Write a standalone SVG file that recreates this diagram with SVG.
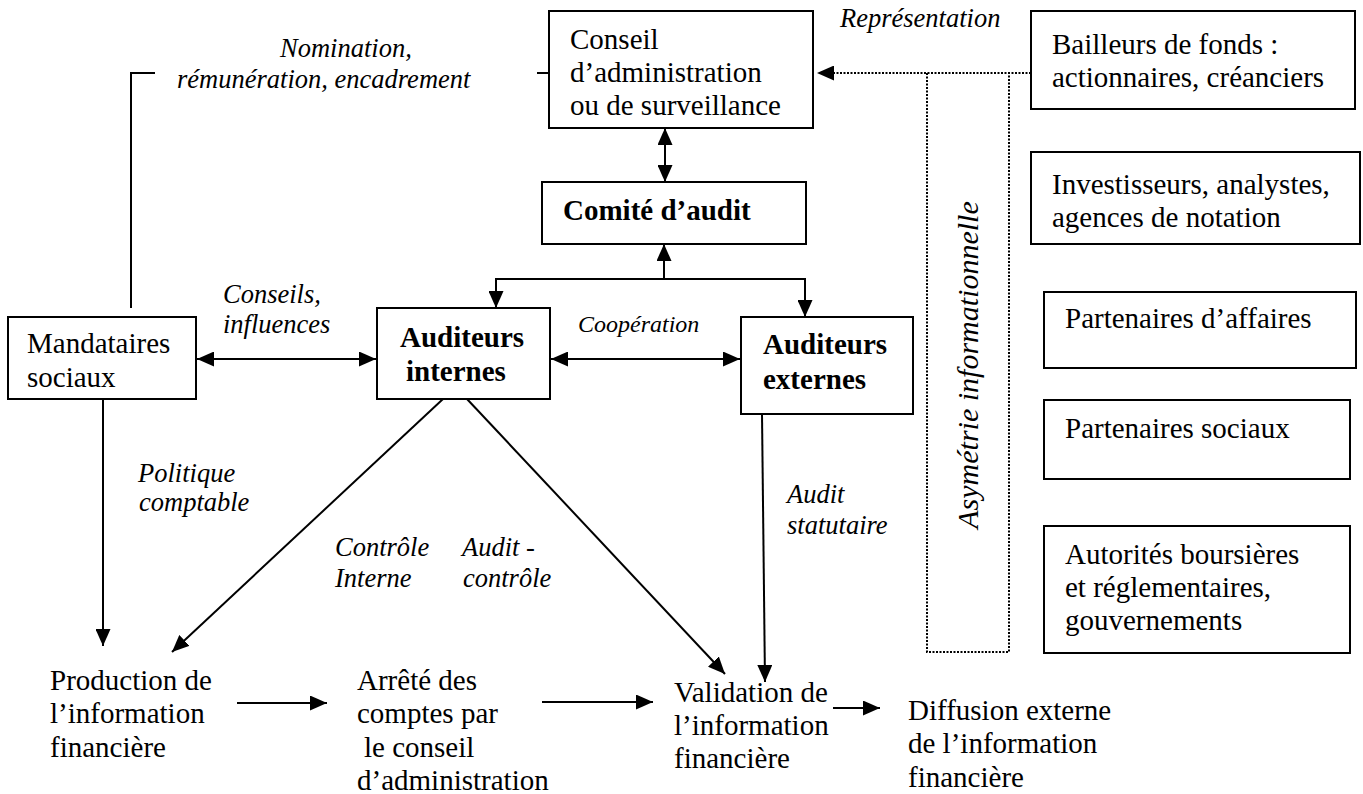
<svg xmlns="http://www.w3.org/2000/svg" width="1363" height="794" viewBox="0 0 1363 794">
<style>
.box{fill:#fff;stroke:#000;stroke-width:2}
.t{font-family:"Liberation Serif","Times New Roman",serif;font-size:29px;fill:#000}
.b{font-weight:bold}
.i{font-family:"Liberation Serif","Times New Roman",serif;font-size:26.5px;font-style:italic;fill:#000}
.ln{fill:none;stroke:#000;stroke-width:2}
.dot{fill:none;stroke:#000;stroke-width:2;stroke-dasharray:2 1.5}
</style>
<defs>
<marker id="ah" markerUnits="userSpaceOnUse" markerWidth="17" markerHeight="15" refX="17" refY="7.5" orient="auto-start-reverse"><path d="M0,0 L17,7.5 L0,15 z" fill="#000"/></marker>
</defs>
<rect width="1363" height="794" fill="#fff"/>
<g id="connectors">
<path class="ln" d="M131,308 V73 H155 M537,73 H549"/>
<line class="ln" x1="665" y1="128" x2="665" y2="182" stroke-width="3" marker-start="url(#ah)" marker-end="url(#ah)"/>
<path class="ln" d="M496,308 V279 H805 V317" marker-start="url(#ah)" marker-end="url(#ah)"/>
<line class="ln" x1="664" y1="279" x2="664" y2="244" marker-end="url(#ah)"/>
<line class="ln" x1="197" y1="359" x2="376" y2="359" stroke-width="2.5" marker-start="url(#ah)" marker-end="url(#ah)"/>
<line class="ln" x1="551" y1="359" x2="740" y2="359" stroke-width="2.5" marker-start="url(#ah)" marker-end="url(#ah)"/>
<line class="ln" x1="103" y1="399" x2="103" y2="646" marker-end="url(#ah)"/>
<line class="ln" x1="443" y1="399" x2="172" y2="652" marker-end="url(#ah)"/>
<line class="ln" x1="467" y1="399" x2="725" y2="674" marker-end="url(#ah)"/>
<line class="ln" x1="762" y1="414" x2="765" y2="682" marker-end="url(#ah)"/>
<line class="ln" x1="237" y1="703" x2="327" y2="703" stroke-width="2.5" marker-end="url(#ah)"/>
<line class="ln" x1="542" y1="702" x2="653" y2="702" stroke-width="2.5" marker-end="url(#ah)"/>
<line class="ln" x1="833" y1="708" x2="880" y2="708" stroke-width="2.5" marker-end="url(#ah)"/>
<line class="dot" x1="1031" y1="73" x2="830" y2="73"/>
<line x1="832" y1="73" x2="817" y2="73" stroke="none" marker-end="url(#ah)"/>
<path class="dot" d="M927,73 V652 H1009 V73" stroke-width="1.6"/>
<text class="i" x="280" y="57">Nomination,</text>
<text class="i" x="177" y="88">rémunération, encadrement</text>
<text class="i" x="840" y="27">Représentation</text>
<text class="i" x="223" y="303">Conseils,</text>
<text class="i" x="223" y="333">influences</text>
<text class="i" x="578" y="332" style="font-size:24px">Coopération</text>
<text class="i" x="138" y="482">Politique</text>
<text class="i" x="139" y="511">comptable</text>
<text class="i" x="335" y="556">Contrôle</text>
<text class="i" x="335" y="587">Interne</text>
<text class="i" x="462" y="556">Audit -</text>
<text class="i" x="463" y="587">contrôle</text>
<text class="i" x="787" y="503">Audit</text>
<text class="i" x="787" y="534">statutaire</text>
<text class="i" transform="translate(978,365) rotate(-90)" text-anchor="middle" style="font-size:30px">Asymétrie informationnelle</text>
</g>
<g id="conseil">
<rect class="box" x="549" y="11" width="264" height="117"/>
<text class="t" x="570" y="49">Conseil</text>
<text class="t" x="570" y="82">d’administration</text>
<text class="t" x="570" y="115">ou de surveillance</text>
</g>
<g id="comite">
<rect class="box" x="542" y="182" width="264" height="62"/>
<text class="t b" x="563" y="220">Comité d’audit</text>
</g>
<g id="mandataires">
<rect class="box" x="8" y="317" width="188" height="82"/>
<text class="t" x="27" y="353">Mandataires</text>
<text class="t" x="27" y="387">sociaux</text>
</g>
<g id="internes">
<rect class="box" x="377" y="308" width="173" height="91"/>
<text class="t b" x="400" y="347">Auditeurs</text>
<text class="t b" x="406" y="381">internes</text>
</g>
<g id="externes">
<rect class="box" x="741" y="317" width="172" height="97"/>
<text class="t b" x="763" y="354">Auditeurs</text>
<text class="t b" x="763" y="389">externes</text>
</g>
<g id="bailleurs">
<rect class="box" x="1031" y="11" width="324" height="98"/>
<text class="t" x="1052" y="54">Bailleurs de fonds :</text>
<text class="t" x="1052" y="87">actionnaires, créanciers</text>
</g>
<g id="investisseurs">
<rect class="box" x="1031" y="152" width="329" height="92"/>
<text class="t" x="1052" y="194">Investisseurs, analystes,</text>
<text class="t" x="1052" y="227">agences de notation</text>
</g>
<g id="partenaires-affaires">
<rect class="box" x="1044" y="292" width="312" height="76"/>
<text class="t" x="1065" y="328">Partenaires d’affaires</text>
</g>
<g id="partenaires-sociaux">
<rect class="box" x="1044" y="400" width="306" height="79"/>
<text class="t" x="1065" y="438">Partenaires sociaux</text>
</g>
<g id="autorites">
<rect class="box" x="1044" y="526" width="306" height="127"/>
<text class="t" x="1065" y="564">Autorités boursières</text>
<text class="t" x="1065" y="597">et réglementaires,</text>
<text class="t" x="1065" y="630">gouvernements</text>
</g>
<g id="production">
<text class="t" x="50" y="690">Production de</text>
<text class="t" x="50" y="723">l’information</text>
<text class="t" x="50" y="757">financière</text>
</g>
<g id="arrete">
<text class="t" x="357" y="690">Arrêté des</text>
<text class="t" x="357" y="723">comptes par</text>
<text class="t" x="364" y="757">le conseil</text>
<text class="t" x="357" y="790">d’administration</text>
</g>
<g id="validation">
<text class="t" x="674" y="702">Validation de</text>
<text class="t" x="674" y="735">l’information</text>
<text class="t" x="674" y="768">financière</text>
</g>
<g id="diffusion">
<text class="t" x="908" y="720">Diffusion externe</text>
<text class="t" x="908" y="753">de l’information</text>
<text class="t" x="908" y="787">financière</text>
</g>
</svg>
